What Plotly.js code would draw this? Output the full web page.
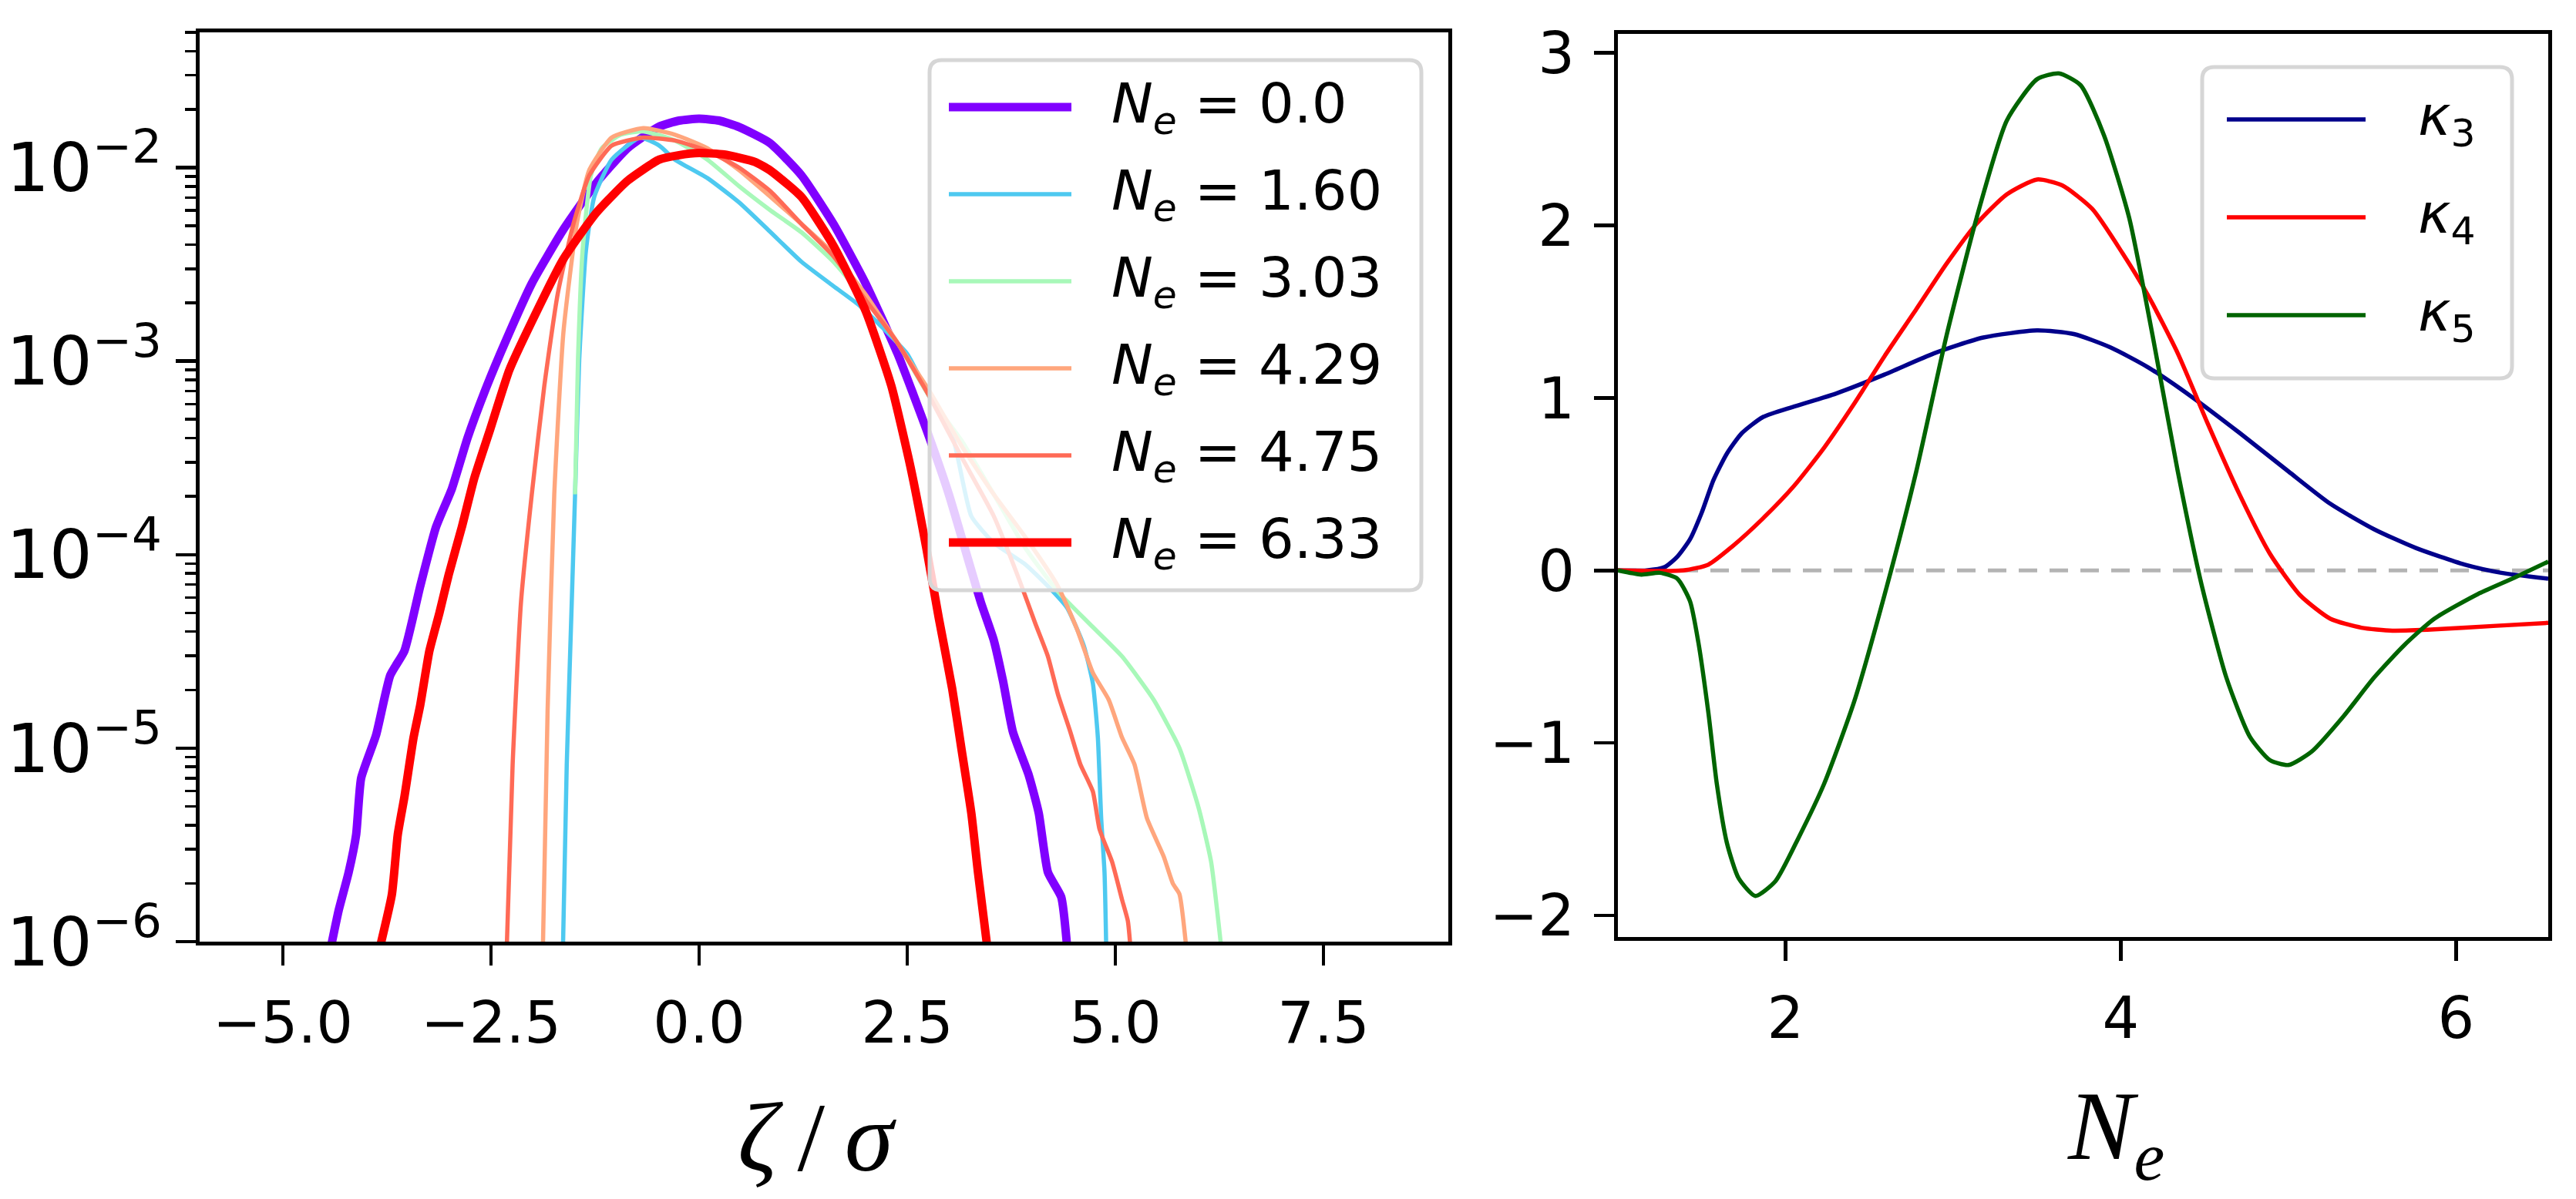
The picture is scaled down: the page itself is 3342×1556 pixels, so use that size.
<!DOCTYPE html>
<html>
<head>
<meta charset="utf-8">
<script src="https://cdn.plot.ly/plotly-3.0.1.min.js"></script>
<style>
  html, body { margin: 0; padding: 0; background: #fff; }
  #chart { width: 3342px; height: 1556px; }
</style>
</head>
<body>
<div id="chart"></div>
<script>
/* left panel: PDFs of zeta/sigma */
const neLabels = ["0.0", "1.60", "3.03", "4.29", "4.75", "6.33"];

const x00 = [-4.42, -4.33, -4.21, -4.12, -4.06, -3.88, -3.71, -3.54, -3.35, -3.16, -2.97, -2.78, -2.55, -2.32, -2.01, -1.63, -1.24, -0.86, -0.48, -0.24, 0, 0.24, 0.48, 0.85, 1.23, 1.615, 2.0, 2.385, 2.73, 3.0, 3.23, 3.385, 3.54, 3.65, 3.77, 3.96, 4.08, 4.19, 4.35, 4.42];
const y00 = [9.5e-7, 1.45e-6, 2.28e-6, 3.57e-6, 7.0e-6, 1.17e-5, 2.38e-5, 3.18e-5, 6.87e-5, 1.39e-4, 2.19e-4, 4.03e-4, 7.43e-4, 1.28e-3, 2.52e-3, 4.79e-3, 8.28e-3, 1.26e-2, 1.63e-2, 1.75e-2, 1.79e-2, 1.75e-2, 1.62e-2, 1.34e-2, 9.12e-3, 5.11e-3, 2.52e-3, 1.09e-3, 4.44e-4, 2.05e-4, 9.48e-5, 5.66e-5, 3.61e-5, 2.23e-5, 1.21e-5, 7.24e-6, 4.61e-6, 2.28e-6, 1.70e-6, 9.5e-7];

const x160 = [-1.635, -1.59, -1.53, -1.49, -1.44, -1.36, -1.26, -1.05, -0.71, -0.48, -0.29, 0.10, 0.48, 0.86, 1.23, 1.615, 1.92, 2.19, 2.5, 2.77, 3.04, 3.27, 3.54, 3.92, 4.19, 4.42, 4.62, 4.73, 4.79, 4.83, 4.87, 4.89];
const y160 = [9.5e-7, 8.24e-6, 5.66e-5, 2.05e-4, 1.02e-3, 3.71e-3, 7.05e-3, 1.10e-2, 1.43e-2, 1.30e-2, 1.10e-2, 8.83e-3, 6.61e-3, 4.63e-3, 3.26e-3, 2.44e-3, 1.95e-3, 1.51e-3, 1.09e-3, 6.53e-4, 4.16e-4, 1.58e-4, 1.15e-4, 8.89e-5, 6.87e-5, 5.31e-5, 3.39e-5, 2.16e-5, 1.135e-5, 4.34e-6, 2.28e-6, 9.5e-7];

const x303 = [-1.49, -1.455, -1.40, -1.30, -1.17, -0.94, -0.67, -0.29, 0.10, 0.48, 0.86, 1.23, 1.615, 2.0, 2.385, 2.77, 3.15, 3.54, 3.92, 4.31, 4.69, 5.08, 5.46, 5.77, 6.0, 6.15, 6.27];
const y303 = [2.05e-4, 1.02e-3, 3.71e-3, 9.1e-3, 1.26e-2, 1.48e-2, 1.54e-2, 1.38e-2, 1.10e-2, 8.02e-3, 6.0e-3, 4.63e-3, 3.26e-3, 2.07e-3, 1.24e-3, 6.53e-4, 3.90e-4, 2.05e-4, 1.08e-4, 6.44e-5, 4.39e-5, 2.98e-5, 1.78e-5, 1.0e-5, 4.92e-6, 2.59e-6, 9.5e-7];

const x429 = [-1.876, -1.82, -1.74, -1.63, -1.47, -1.32, -1.05, -0.67, -0.29, 0.10, 0.48, 0.86, 1.23, 1.615, 2.0, 2.385, 2.77, 3.15, 3.54, 3.92, 4.31, 4.54, 4.73, 4.92, 5.08, 5.23, 5.38, 5.58, 5.69, 5.77, 5.85];
const y429 = [9.5e-7, 1.57e-5, 2.05e-4, 1.41e-3, 5.11e-3, 9.70e-3, 1.43e-2, 1.60e-2, 1.48e-2, 1.26e-2, 9.70e-3, 7.05e-3, 5.11e-3, 3.59e-3, 2.21e-3, 1.24e-3, 6.97e-4, 3.66e-4, 2.05e-4, 1.23e-4, 6.87e-5, 4.11e-5, 2.45e-5, 1.78e-5, 1.135e-5, 8.24e-6, 4.34e-6, 2.76e-6, 2.0e-6, 1.76e-6, 9.5e-7];

const x475 = [-2.31, -2.24, -2.14, -2.01, -1.86, -1.70, -1.51, -1.32, -1.05, -0.67, -0.29, 0.10, 0.48, 0.86, 1.23, 1.615, 2.0, 2.385, 2.77, 3.15, 3.54, 3.85, 4.04, 4.19, 4.31, 4.46, 4.58, 4.73, 4.81, 4.96, 5.08, 5.15, 5.18];
const y475 = [9.5e-7, 8.24e-6, 5.66e-5, 2.05e-4, 7.43e-4, 2.21e-3, 5.11e-3, 9.10e-3, 1.30e-2, 1.43e-2, 1.38e-2, 1.22e-2, 1.0e-2, 7.52e-3, 5.11e-3, 3.48e-3, 2.07e-3, 1.24e-3, 6.53e-4, 3.21e-4, 1.58e-4, 7.33e-5, 4.39e-5, 2.98e-5, 1.90e-5, 1.21e-5, 8.24e-6, 5.97e-6, 3.81e-6, 2.59e-6, 1.65e-6, 1.28e-6, 9.5e-7];

const x633 = [-3.83, -3.69, -3.62, -3.54, -3.43, -3.35, -3.24, -3.12, -3.01, -2.85, -2.70, -2.51, -2.28, -2.01, -1.63, -1.24, -0.86, -0.48, -0.24, 0, 0.3, 0.67, 0.85, 1.23, 1.615, 2.0, 2.31, 2.54, 2.73, 2.88, 3.04, 3.15, 3.27, 3.35, 3.46];
const y633 = [9.5e-7, 1.76e-6, 3.57e-6, 5.6e-6, 1.135e-5, 1.67e-5, 3.18e-5, 4.99e-5, 7.82e-5, 1.39e-4, 2.49e-4, 4.44e-4, 8.99e-4, 1.60e-3, 3.37e-3, 5.81e-3, 8.55e-3, 1.10e-2, 1.16e-2, 1.19e-2, 1.17e-2, 1.07e-2, 9.70e-3, 7.05e-3, 3.94e-3, 1.82e-3, 7.43e-4, 2.83e-4, 1.08e-4, 4.68e-5, 2.03e-5, 1.0e-5, 4.61e-6, 2.28e-6, 9.5e-7];

/* right panel: cumulants vs N_e */
const kLabels = ["3", "4", "5"];
const neK3 = [1.0, 1.17, 1.28, 1.355, 1.43, 1.50, 1.57, 1.65, 1.74, 1.865, 2.05, 2.30, 2.59, 2.885, 3.18, 3.50, 3.72, 3.94, 4.16, 4.415, 4.71, 5.0, 5.25, 5.51, 5.76, 6.05, 6.27, 6.55];
const k3 = [0, 0, 0.02, 0.08, 0.18, 0.335, 0.523, 0.677, 0.796, 0.889, 0.950, 1.025, 1.135, 1.258, 1.35, 1.391, 1.370, 1.292, 1.179, 1.012, 0.796, 0.574, 0.386, 0.239, 0.130, 0.034, -0.014, -0.048];
const neK4 = [1.0, 1.39, 1.54, 1.68, 1.865, 2.05, 2.23, 2.41, 2.59, 2.78, 2.96, 3.14, 3.32, 3.50, 3.65, 3.83, 4.01, 4.16, 4.34, 4.52, 4.71, 4.89, 5.07, 5.25, 5.435, 5.62, 5.87, 6.24, 6.55];
const k4 = [0, 0, 0.034, 0.137, 0.301, 0.489, 0.711, 0.967, 1.241, 1.514, 1.777, 2.010, 2.180, 2.266, 2.232, 2.095, 1.839, 1.599, 1.258, 0.848, 0.437, 0.096, -0.144, -0.280, -0.332, -0.349, -0.342, -0.321, -0.304];
const neK5 = [1.0, 1.14, 1.25, 1.355, 1.43, 1.48, 1.54, 1.59, 1.65, 1.72, 1.82, 1.94, 2.08, 2.23, 2.41, 2.59, 2.78, 2.96, 3.14, 3.32, 3.50, 3.63, 3.76, 3.90, 4.05, 4.19, 4.34, 4.48, 4.63, 4.77, 4.89, 5.0, 5.14, 5.33, 5.51, 5.69, 5.87, 6.13, 6.35, 6.55];
const k5 = [0, -0.024, -0.014, -0.048, -0.178, -0.417, -0.827, -1.237, -1.579, -1.784, -1.887, -1.801, -1.545, -1.237, -0.759, -0.144, 0.574, 1.360, 2.044, 2.608, 2.847, 2.881, 2.813, 2.522, 2.044, 1.360, 0.574, -0.075, -0.622, -0.964, -1.100, -1.128, -1.049, -0.844, -0.622, -0.434, -0.280, -0.137, -0.041, 0.051];

const W = 3342, H = 1556;
const px = (v) => v / W;
const py = (v) => 1 - v / H;

const pdfColors = ["#8000ff", "#4ec9f0", "#a8f8b9", "#ffa67d", "#ff6a56", "#ff0000"];
const pdfWidths = [11, 5.5, 5.5, 5.5, 5.5, 11];
const kColors = ["#00008b", "#ff0000", "#006400"];

const pdfX = [x00, x160, x303, x429, x475, x633];
const pdfY = [y00, y160, y303, y429, y475, y633];

const traces = [];
pdfX.forEach((xs, i) => {
  traces.push({
    x: xs, y: pdfY[i], type: "scatter", mode: "lines",
    line: { color: pdfColors[i], width: pdfWidths[i], shape: "spline", smoothing: 0.5 },
    xaxis: "x", yaxis: "y", showlegend: false, hoverinfo: "skip",
  });
});
[[neK3, k3], [neK4, k4], [neK5, k5]].forEach(([xs, ys], i) => {
  traces.push({
    x: xs, y: ys, type: "scatter", mode: "lines",
    line: { color: kColors[i], width: 5.5, shape: "spline", smoothing: 0.6 },
    xaxis: "x2", yaxis: "y2", showlegend: false, hoverinfo: "skip",
  });
});

/* hand-made legends, matplotlib style (long line samples) */
const shapes = [];
const annotations = [];

function roundBox(x0, y0, x1, y1, r) {
  const X = px, Y = py;
  return `M${X(x0 + r)},${Y(y0)} L${X(x1 - r)},${Y(y0)} Q${X(x1)},${Y(y0)} ${X(x1)},${Y(y0 + r)} ` +
    `L${X(x1)},${Y(y1 - r)} Q${X(x1)},${Y(y1)} ${X(x1 - r)},${Y(y1)} L${X(x0 + r)},${Y(y1)} ` +
    `Q${X(x0)},${Y(y1)} ${X(x0)},${Y(y1 - r)} L${X(x0)},${Y(y0 + r)} Q${X(x0)},${Y(y0)} ${X(x0 + r)},${Y(y0)} Z`;
}

function addLegend(box, rowY, sx0, sx1, tx, texts, colors, widths) {
  shapes.push({
    type: "path", xref: "paper", yref: "paper", layer: "above",
    path: roundBox(box[0], box[1], box[2], box[3], 16),
    fillcolor: "rgba(255,255,255,0.8)", line: { color: "#d6d6d6", width: 5 },
  });
  texts.forEach((t, i) => {
    shapes.push({
      type: "line", xref: "paper", yref: "paper", layer: "above",
      x0: px(sx0), x1: px(sx1), y0: py(rowY[i]), y1: py(rowY[i]),
      line: { color: colors[i], width: widths[i] },
    });
    annotations.push({
      xref: "paper", yref: "paper", x: px(tx), y: py(rowY[i]),
      xanchor: "left", yanchor: "middle", showarrow: false,
      text: t, font: { family: "DejaVu Sans", size: 72, color: "#000" },
    });
  });
}

addLegend([1206, 78, 1844, 766], [139, 252, 365, 478, 591, 704], 1231, 1390, 1440,
  neLabels.map((v) => `<i>N<sub>e</sub></i> = ${v}`), pdfColors, pdfWidths);
addLegend([2857, 87, 3259, 491], [155, 282, 409], 2889, 3069, 3135,
  kLabels.map((k) => `<i>κ</i><sub>${k}</sub>`), kColors, [5.5, 5.5, 5.5]);

/* axis labels, placed like the matplotlib mathtext ones */
const titleFont = { family: "Liberation Serif", size: 128, color: "#000" };
annotations.push({
  xref: "paper", yref: "paper", x: px(1060), y: py(1476), xanchor: "center", yanchor: "middle",
  showarrow: false, text: "<i>ζ</i>\u2009/\u2009<i>σ</i>", font: titleFont,
});
annotations.push({
  xref: "paper", yref: "paper", x: px(2745), y: py(1470), xanchor: "center", yanchor: "middle",
  showarrow: false, text: "<i>N<sub>e</sub></i>", font: titleFont,
});

/* dashed zero line, right panel */
shapes.push({
  type: "line", xref: "x2 domain", yref: "y2", x0: 0, x1: 1, y0: 0, y1: 0,
  layer: "below", line: { color: "#b4b4b4", width: 5, dash: "24px,16px" },
});

const tickFont = { family: "DejaVu Sans", size: 75, color: "#000" };
const axisBase = {
  showline: true, linecolor: "#000", linewidth: 5, mirror: true,
  ticks: "outside", ticklen: 26, tickwidth: 4.5, tickcolor: "#000",
  showgrid: false, zeroline: false, tickfont: tickFont, ticklabelstandoff: 10,
};

const layout = {
  width: W, height: H,
  margin: { l: 0, r: 0, t: 0, b: 0 },
  paper_bgcolor: "#fff", plot_bgcolor: "#fff",
  showlegend: false,
  xaxis: Object.assign({}, axisBase, {
    domain: [px(259), px(1879)], anchor: "y",
    range: [-6, 9], tick0: -5, dtick: 2.5, tickformat: ".1f",
  }),
  yaxis: Object.assign({}, axisBase, {
    domain: [py(1222), py(42)], anchor: "x",
    type: "log", range: [-6, -1.301], dtick: 1, exponentformat: "power",
    tickfont: { family: "DejaVu Sans", size: 70, color: "#000" }, ticklabelstandoff: 4,
    minor: { ticks: "outside", ticklen: 14, tickwidth: 3.5, tickcolor: "#000", dtick: "D1" },
  }),
  xaxis2: Object.assign({}, axisBase, {
    domain: [px(2099), px(3306)], anchor: "y2",
    range: [1, 6.55], tick0: 0, dtick: 2,
  }),
  yaxis2: Object.assign({}, axisBase, {
    domain: [py(1216), py(44)], anchor: "x2",
    range: [-2.125, 3.11], tick0: 0, dtick: 1,
  }),
  shapes: shapes,
  annotations: annotations,
};

Plotly.newPlot("chart", traces, layout, { staticPlot: true });
</script>
</body>
</html>
